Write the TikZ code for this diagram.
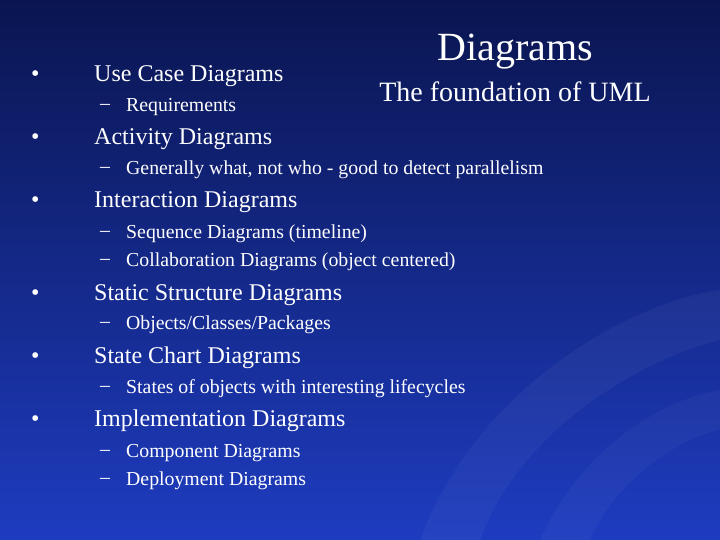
\documentclass[tikz,border=0pt]{standalone}
\usepackage{fontspec}
\setmainfont{Liberation Serif}
\begin{document}
\begin{tikzpicture}[x=1pt,y=-1pt,
  lone/.style={anchor=west,inner sep=0pt,text=white,font=\fontsize{24}{26}\selectfont},
  ltwo/.style={anchor=west,inner sep=0pt,text=white,font=\fontsize{19.8}{22}\selectfont},
  ttl/.style={inner sep=0pt,text=white}]
\definecolor{bgtop}{HTML}{0A1550}
\definecolor{bgbot}{HTML}{1E3CC0}
\shade[top color=bgtop,bottom color=bgbot] (0,0) rectangle (720,540);
\fill[white,opacity=0.04] (420,540) .. controls (480,380) and (640,300) .. (720,290) -- (720,340) .. controls (640,360) and (520,430) .. (480,540) -- cycle;
\fill[white,opacity=0.03] (540,540) .. controls (580,450) and (660,400) .. (720,390) -- (720,430) .. controls (670,440) and (610,490) .. (590,540) -- cycle;
\useasboundingbox (0,0) rectangle (720,540);
\node[ttl,font=\fontsize{40}{42}\selectfont] (t1) at (515,52) {Diagrams};
\node[ttl,font=\fontsize{28}{30}\selectfont] (t2) at (515,92) {The foundation of UML};
\foreach \n/\y/\t in {a/76/Use Case Diagrams,b/139/Activity Diagrams,c/202/Interaction Diagrams,d/295/Static Structure Diagrams,e/358/State Chart Diagrams,f/421/Implementation Diagrams}{
  \node[lone] (\n b) at (31,\y) {•};
  \node[lone] (\n) at (94,\y) {\t};
}
\foreach \n/\y/\t in {a1/107/Requirements,b1/170/{Generally what, not who - good to detect parallelism},c1/234/Sequence Diagrams (timeline),c2/262/Collaboration Diagrams (object centered),d1/325/{Objects/Classes/Packages},e1/389/States of objects with interesting lifecycles,f1/453/Component Diagrams,f2/481/Deployment Diagrams}{
  \node[ltwo] (\n d) at (100,\y) {–};
  \node[ltwo] (\n) at (126,\y) {\t};
}
\end{tikzpicture}
\end{document}
